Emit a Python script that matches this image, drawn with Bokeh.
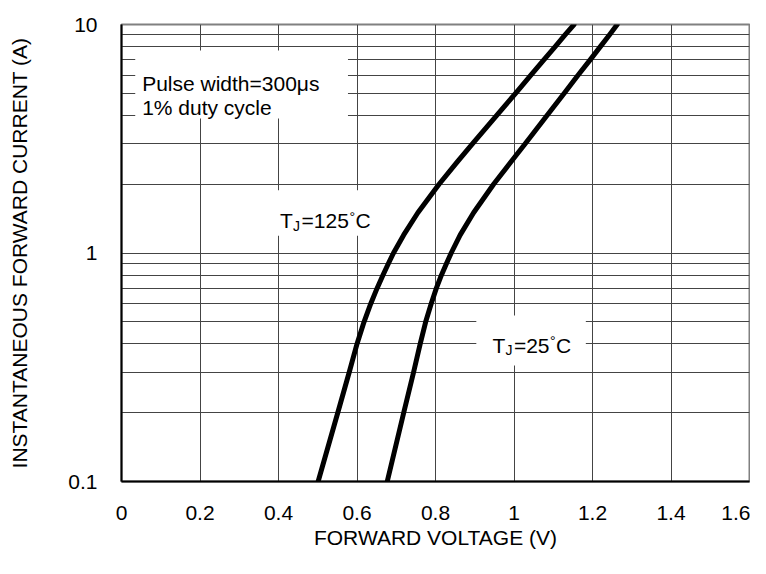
from bokeh.plotting import figure
from bokeh.models import FixedTicker, CustomJSTickFormatter, Label, BoxAnnotation
from bokeh.embed import file_html
from bokeh.resources import INLINE

# ---- data ----
current_a = [0.1, 0.2, 0.3, 0.4, 0.5, 0.6, 0.7, 0.8, 0.9, 1.0,
             1.2, 1.5, 2.0, 2.5, 3, 4, 5, 6, 7, 8, 9, 10]
vf_125c = [0.501, 0.551, 0.580, 0.600, 0.618, 0.635, 0.651, 0.666, 0.680, 0.693,
           0.719, 0.755, 0.809, 0.855, 0.894, 0.956, 1.004, 1.043, 1.076, 1.105, 1.130, 1.153]
vf_25c = [0.677, 0.719, 0.744, 0.761, 0.775, 0.789, 0.802, 0.815, 0.828, 0.840,
          0.863, 0.897, 0.948, 0.992, 1.028, 1.084, 1.128, 1.163, 1.194, 1.220, 1.243, 1.263]

x_ticks = [0, 0.2, 0.4, 0.6, 0.8, 1.0, 1.2, 1.4, 1.6]
y_ticks = [0.1, 1, 10]
y_minor = [0.2, 0.3, 0.4, 0.5, 0.6, 0.7, 0.8, 0.9, 2, 3, 4, 5, 6, 7, 8, 9]

x_title = "FORWARD VOLTAGE (V)"
y_title = "INSTANTANEOUS FORWARD CURRENT (A)"
note_lines = ["Pulse width=300\u03bcs", "1% duty cycle"]

FONT = "Liberation Sans"
FS = "21px"

p = figure(width=750, height=558, x_range=(0, 1.6), y_range=(0.1, 10),
           y_axis_type="log", output_backend="svg", toolbar_location=None,
           min_border_left=121, min_border_right=1, min_border_top=24,
           min_border_bottom=77)

p.background_fill_color = "white"
p.border_fill_color = "white"
p.outline_line_color = "#808080"
p.outline_line_width = 2

fmt = CustomJSTickFormatter(code="return tick.toString();")

p.xaxis.ticker = FixedTicker(ticks=x_ticks)
p.yaxis.ticker = FixedTicker(ticks=y_ticks, minor_ticks=y_minor)
p.xaxis.formatter = fmt
p.yaxis.formatter = fmt

for ax in (p.xaxis[0], p.yaxis[0]):
    ax.major_tick_out = 0
    ax.major_tick_in = 0
    ax.minor_tick_out = 0
    ax.minor_tick_in = 0
    ax.axis_line_color = "black"
    ax.axis_line_width = 2
    ax.major_label_text_font = FONT
    ax.major_label_text_font_size = FS
    ax.major_label_text_color = "black"
    ax.axis_label_text_font = FONT
    ax.axis_label_text_font_size = FS
    ax.axis_label_text_font_style = "normal"
    ax.axis_label_text_color = "black"

p.xaxis.axis_label = x_title
p.yaxis.axis_label = y_title
p.xaxis.major_label_standoff = 24
p.yaxis.major_label_standoff = 24
p.xaxis.axis_label_standoff = 3
p.yaxis.axis_label_standoff = 34

p.xgrid.ticker = FixedTicker(ticks=x_ticks)
p.xgrid.grid_line_color = "#444444"
p.xgrid.grid_line_width = 1
p.ygrid.grid_line_color = "#444444"
p.ygrid.grid_line_width = 1
p.ygrid.minor_grid_line_color = "#444444"
p.ygrid.minor_grid_line_width = 1

p.line(vf_125c, current_a, line_color="black", line_width=5, line_join="round", line_cap="round")
p.line(vf_25c, current_a, line_color="black", line_width=5, line_join="round", line_cap="round")

# white boxes behind the notes
for l, r, b, t in [(0.035, 0.577, 3.88, 7.69), (0.36, 0.665, 1.19, 1.88), (0.904, 1.183, 0.322, 0.533)]:
    p.add_layout(BoxAnnotation(left=l, right=r, bottom=b, top=t, fill_color="white",
                               fill_alpha=1.0, line_color=None))

def lab(x, y, text, size=FS, dx=0, dy=0):
    p.add_layout(Label(x=x, y=y, text=text, x_offset=dx, y_offset=dy,
                       text_font=FONT, text_font_size=size, text_color="black",
                       text_baseline="alphabetic", text_align="left"))

lab(0.0526, 5.52, note_lines[0])
lab(0.0526, 4.33, note_lines[1])

# T_J = 125 C
lab(0.404, 1.387, "T")
lab(0.404, 1.387, "J", size="14px", dx=13, dy=-5)
lab(0.404, 1.387, "=125", dx=21.5)
lab(0.404, 1.387, "\u00b0", size="14px", dx=69.5, dy=4)
lab(0.404, 1.387, "C", dx=75.5)

# T_J = 25 C
lab(0.945, 0.394, "T")
lab(0.945, 0.394, "J", size="14px", dx=13, dy=-5)
lab(0.945, 0.394, "=25", dx=21.5)
lab(0.945, 0.394, "\u00b0", size="14px", dx=57.5, dy=4)
lab(0.945, 0.394, "C", dx=63.5)

open("out.html", "w").write(file_html(p, INLINE))
